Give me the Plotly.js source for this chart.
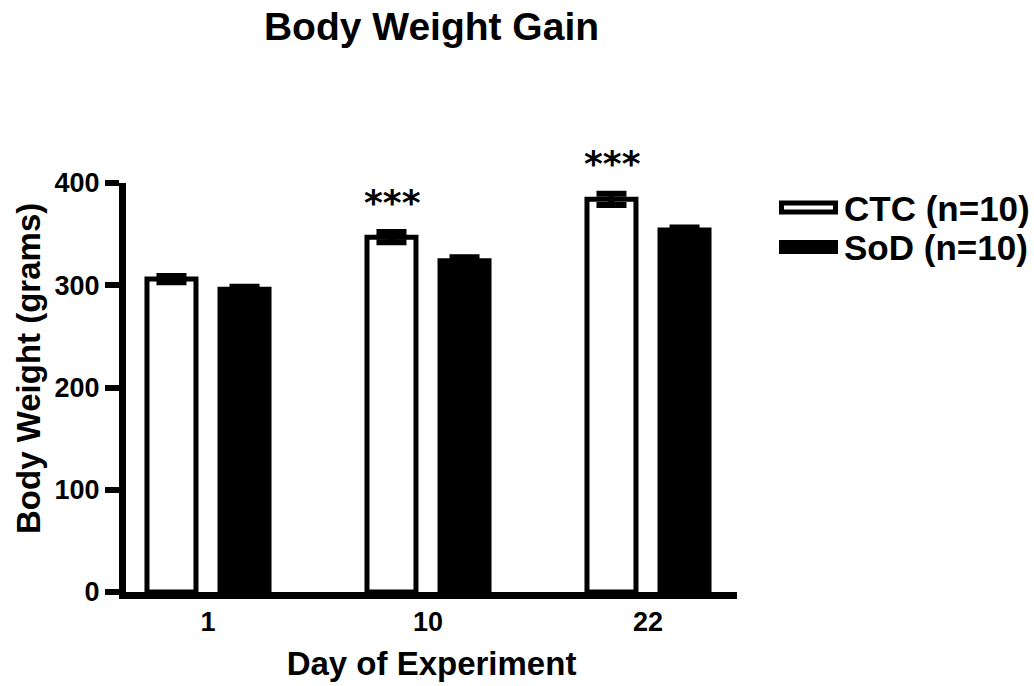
<!DOCTYPE html>
<html><head><meta charset="utf-8">
<script src="https://cdn.plot.ly/plotly-3.0.1.min.js"></script>
<style>html,body{margin:0;padding:0;background:#fff}#chart{width:1034px;height:686px}</style>
</head><body><div id="chart"></div>
<script>
// ---- data ----
const days = ['1', '10', '22'];
const seriesNames = ['CTC (n=10)', 'SoD (n=10)'];
const ctcMean = [306, 347, 384];
const ctcSem = [3, 5, 5.5];
const sodMean = [296, 324, 354];
const sodSem = [2.5, 3.5, 2.5];
const sigLabels = ['', '***', '***'];
const yTicks = [0, 100, 200, 300, 400];
const xTitle = 'Day of Experiment';
const yTitle = 'Body Weight (grams)';
const chartTitle = 'Body Weight Gain';

// ---- layout helpers ----
const W = 1034, H = 686;
const M = {l: 126, r: 297, t: 183, b: 94};
const PW = W - M.l - M.r, PH = H - M.t - M.b;
const px = v => (v - M.l) / PW;
const py = v => (H - M.b - v) / PH;
const FONT = 'Liberation Sans, Arial, Helvetica, sans-serif';

const traces = [
  {
    type: 'bar', name: seriesNames[0], x: days, y: ctcMean,
    marker: {color: '#ffffff', line: {color: '#000000', width: 5}},
    error_y: {type: 'data', array: ctcSem, visible: true, color: '#000000', thickness: 6, width: 15},
    showlegend: false, hoverinfo: 'skip'
  },
  {
    type: 'bar', name: seriesNames[1], x: days, y: sodMean,
    marker: {color: '#000000', line: {color: '#000000', width: 5}},
    error_y: {type: 'data', array: sodSem, visible: true, color: '#000000', thickness: 6, width: 15},
    showlegend: false, hoverinfo: 'skip'
  }
];

const annotations = [];
sigLabels.forEach((s, i) => {
  if (!s) return;
  annotations.push({
    x: i, xref: 'x', y: ctcMean[i] + ctcSem[i], yref: 'y',
    text: s, showarrow: false, xanchor: 'center', yanchor: 'middle',
    xshift: -36, yshift: 30,
    font: {family: 'DejaVu Sans, ' + FONT, size: 36, color: '#000', weight: 'bold'}
  });
});
// legend text
const legendY = [208, 247];
seriesNames.forEach((n, i) => {
  annotations.push({
    x: px(842), xref: 'paper', y: py(legendY[i]), yref: 'paper',
    text: n, showarrow: false, xanchor: 'left', yanchor: 'middle',
    font: {family: FONT, size: 35, color: '#000', weight: 'bold'}
  });
});
// y-axis title
annotations.push({
  x: px(28), xref: 'paper', y: py(369), yref: 'paper',
  text: yTitle, textangle: -90, showarrow: false, xanchor: 'center', yanchor: 'middle',
  font: {family: FONT, size: 33, color: '#000', weight: 'bold'}
});

const shapes = [
  {type: 'rect', xref: 'paper', yref: 'paper', x0: px(781.5), x1: px(835.5), y0: py(203), y1: py(212),
   fillcolor: '#ffffff', line: {color: '#000', width: 5}},
  {type: 'rect', xref: 'paper', yref: 'paper', x0: px(779), x1: px(838), y0: py(240), y1: py(254),
   fillcolor: '#000000', line: {color: '#000', width: 0}}
];

const layout = {
  width: W, height: H,
  margin: M,
  paper_bgcolor: '#ffffff', plot_bgcolor: '#ffffff',
  font: {family: FONT, size: 27, color: '#000', weight: 'bold'},
  title: {
    text: chartTitle, x: 0.5, xref: 'paper', xanchor: 'center',
    y: 1 - 26 / H, yref: 'container', yanchor: 'middle',
    font: {family: FONT, size: 39, color: '#000', weight: 'bold'}
  },
  barmode: 'group',
  bargap: 0.336,
  bargroupgap: 0.329,
  xaxis: {
    type: 'category', range: [(M.l - 208) / 220, (W - M.r - 208) / 220],
    showline: true, linewidth: 7, linecolor: '#000', ticks: '', showgrid: false, zeroline: false,
    tickfont: {family: FONT, size: 27, color: '#000', weight: 'bold'},
    title: {text: xTitle, standoff: 18, font: {family: FONT, size: 33, color: '#000', weight: 'bold'}},
    fixedrange: true, automargin: false
  },
  yaxis: {
    range: [0, 400], tickvals: yTicks, ticktext: yTicks.map(String),
    showline: true, linewidth: 7, linecolor: '#000',
    ticks: 'outside', ticklen: 14, tickwidth: 6, tickcolor: '#000',
    showgrid: false, zeroline: false,
    tickfont: {family: FONT, size: 27, color: '#000', weight: 'bold'},
    fixedrange: true, automargin: false
  },
  annotations: annotations,
  shapes: shapes,
  showlegend: false
};

Plotly.newPlot('chart', traces, layout, {staticPlot: true, displayModeBar: false});
</script>
</body></html>
